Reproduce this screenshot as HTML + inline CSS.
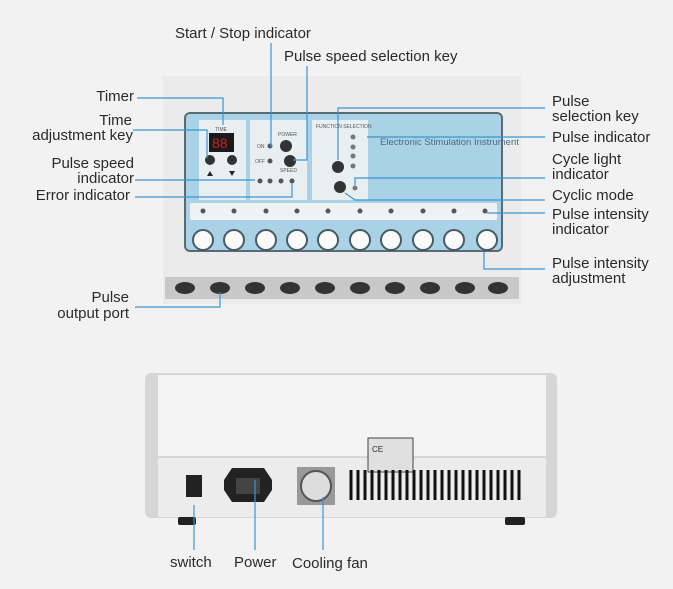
<!DOCTYPE html>
<html><head><meta charset="utf-8"><style>
body{margin:0;background:#f2f2f2}
svg{display:block}
text{font-family:"Liberation Sans",sans-serif;font-size:15px;fill:#2a2a2a}
.s{font-size:5px;fill:#555}
.e{text-anchor:end}
</style></head><body>
<svg width="673" height="589" viewBox="0 0 673 589" xmlns="http://www.w3.org/2000/svg">
<rect width="673" height="589" fill="#f2f2f2"/>
<rect x="163" y="76" width="358" height="228" fill="#ebebeb"/>
<rect x="185" y="113" width="317" height="138" rx="5" fill="#a9d2e6" stroke="#5a6a74" stroke-width="2"/>
<rect x="199" y="120" width="47" height="80" fill="#e9eef0"/>
<rect x="250" y="120" width="57" height="80" fill="#e9eef0"/>
<rect x="312" y="120" width="56" height="80" fill="#e9eef0"/>
<rect x="209" y="133" width="25" height="19" fill="#1a1a1a"/>
<text x="212" y="148" style="font-size:14px;fill:#c22">88</text>
<text x="215" y="131" class="s">TIME</text>
<circle cx="210" cy="160" r="5" fill="#333"/><circle cx="232" cy="160" r="5" fill="#333"/>
<path d="M207 176l3-5 3 5z M229 171l3 5 3-5z" fill="#222"/>
<text x="257" y="148" class="s">ON</text><text x="255" y="163" class="s">OFF</text>
<circle cx="270" cy="146" r="2.5" fill="#555"/><circle cx="270" cy="161" r="2.5" fill="#555"/>
<circle cx="286" cy="146" r="6" fill="#333"/><circle cx="290" cy="161" r="6" fill="#333"/>
<text x="278" y="136" class="s">POWER</text><text x="280" y="172" class="s">SPEED</text>
<circle cx="260" cy="181" r="2.5" fill="#555"/><circle cx="270" cy="181" r="2.5" fill="#555"/><circle cx="281" cy="181" r="2.5" fill="#555"/><circle cx="292" cy="181" r="2.5" fill="#555"/>
<text x="316" y="128" class="s">FUNCTION SELECTION</text>
<circle cx="353" cy="137" r="2.5" fill="#777"/><circle cx="353" cy="147" r="2.5" fill="#777"/><circle cx="353" cy="156" r="2.5" fill="#777"/><circle cx="353" cy="166" r="2.5" fill="#777"/><circle cx="355" cy="188" r="2.5" fill="#777"/>
<circle cx="338" cy="167" r="6" fill="#333"/><circle cx="340" cy="187" r="6" fill="#333"/>
<text x="380" y="145" style="font-size:9.5px;fill:#4a6a80">Electronic Stimulation Instrument</text>
<rect x="190" y="203" width="307" height="17" rx="2" fill="#eef2f3"/>
<g fill="#555">
<circle cx="203" cy="211" r="2.5"/><circle cx="234" cy="211" r="2.5"/><circle cx="266" cy="211" r="2.5"/><circle cx="297" cy="211" r="2.5"/><circle cx="328" cy="211" r="2.5"/><circle cx="360" cy="211" r="2.5"/><circle cx="391" cy="211" r="2.5"/><circle cx="423" cy="211" r="2.5"/><circle cx="454" cy="211" r="2.5"/><circle cx="485" cy="211" r="2.5"/></g>
<g fill="#fafafa" stroke="#4a5a64" stroke-width="2">
<circle cx="203" cy="240" r="10"/><circle cx="234" cy="240" r="10"/><circle cx="266" cy="240" r="10"/><circle cx="297" cy="240" r="10"/><circle cx="328" cy="240" r="10"/><circle cx="360" cy="240" r="10"/><circle cx="391" cy="240" r="10"/><circle cx="423" cy="240" r="10"/><circle cx="454" cy="240" r="10"/><circle cx="487" cy="240" r="10"/></g>
<rect x="165" y="277" width="354" height="22" fill="#c8c8c8"/>
<g fill="#333"><ellipse cx="185" cy="288" rx="10" ry="6"/><ellipse cx="220" cy="288" rx="10" ry="6"/><ellipse cx="255" cy="288" rx="10" ry="6"/><ellipse cx="290" cy="288" rx="10" ry="6"/><ellipse cx="325" cy="288" rx="10" ry="6"/><ellipse cx="360" cy="288" rx="10" ry="6"/><ellipse cx="395" cy="288" rx="10" ry="6"/><ellipse cx="430" cy="288" rx="10" ry="6"/><ellipse cx="465" cy="288" rx="10" ry="6"/><ellipse cx="498" cy="288" rx="10" ry="6"/></g>
<rect x="145" y="373" width="412" height="145" rx="6" fill="#d6d6d6"/>
<rect x="158" y="375" width="388" height="82" fill="#f4f4f4"/>
<rect x="158" y="457" width="388" height="60" fill="#ececec"/>
<line x1="158" y1="457" x2="546" y2="457" stroke="#bbb"/>
<rect x="368" y="438" width="45" height="34" fill="#e0e0e0" stroke="#444"/>
<text x="372" y="452" style="font-size:8px">CE</text>
<rect x="186" y="475" width="16" height="22" fill="#222"/>
<path d="M224 480l8-12h32l8 12v10l-8 12h-32l-8-12z" fill="#222"/>
<rect x="236" y="478" width="24" height="16" fill="#444"/>
<rect x="297" y="467" width="38" height="38" fill="#999"/><circle cx="316" cy="486" r="15" fill="#ddd" stroke="#555" stroke-width="2"/>
<g stroke="#111" stroke-width="3"><path d="M351 470v30M358 470v30M365 470v30M372 470v30M379 470v30M386 470v30M393 470v30M400 470v30M407 470v30M414 470v30M421 470v30M428 470v30M435 470v30M442 470v30M449 470v30M456 470v30M463 470v30M470 470v30M477 470v30M484 470v30M491 470v30M498 470v30M505 470v30M512 470v30M519 470v30"/></g>
<rect x="178" y="517" width="18" height="8" rx="2" fill="#222"/><rect x="505" y="517" width="20" height="8" rx="2" fill="#222"/>
<g stroke="#3a95d4" stroke-width="1.2" fill="none">
<path d="M271 43V147"/>
<path d="M307 66V160H293"/>
<path d="M137 98H223V125"/>
<path d="M133 130H207V158"/>
<path d="M135 180H255"/>
<path d="M135 197H292V183"/>
<path d="M545 108H338V160"/>
<path d="M545 137H367"/>
<path d="M545 178H355V185"/>
<path d="M545 200H355L345 193"/>
<path d="M545 213H487"/>
<path d="M545 269H484V252"/>
<path d="M135 307H220V292"/>
<path d="M194 505V550"/><path d="M255 480V550"/><path d="M323 497V550"/>
</g>
<text x="175" y="38">Start / Stop indicator</text>
<text x="284" y="61">Pulse speed selection key</text>
<text class="e" x="134" y="101">Timer</text>
<text class="e" x="132" y="125">Time</text><text class="e" x="133" y="140">adjustment key</text>
<text class="e" x="134" y="168">Pulse speed</text><text class="e" x="134" y="183">indicator</text>
<text class="e" x="130" y="200">Error indicator</text>
<text class="e" x="129" y="302">Pulse</text><text class="e" x="129" y="318">output port</text>
<text x="552" y="106">Pulse</text><text x="552" y="121">selection key</text>
<text x="552" y="142">Pulse indicator</text>
<text x="552" y="164">Cycle light</text><text x="552" y="179">indicator</text>
<text x="552" y="200">Cyclic mode</text>
<text x="552" y="219">Pulse intensity</text><text x="552" y="234">indicator</text>
<text x="552" y="268">Pulse intensity</text><text x="552" y="283">adjustment</text>
<text x="170" y="567">switch</text>
<text x="234" y="567">Power</text>
<text x="292" y="568">Cooling fan</text>
</svg>
</body></html>
